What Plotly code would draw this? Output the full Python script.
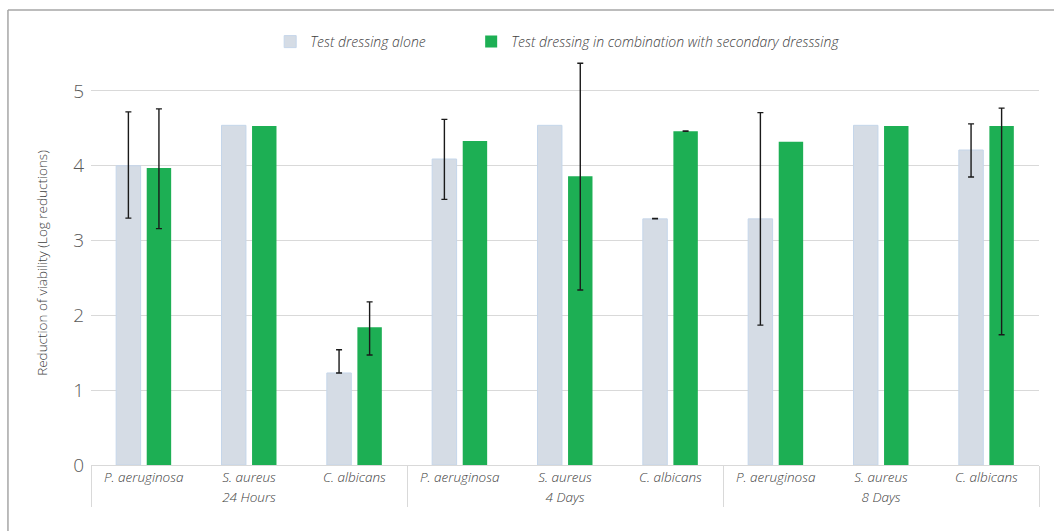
import plotly.graph_objects as go

# Two-level categories: time point / organism
periods = ["24 Hours"] * 3 + ["4 Days"] * 3 + ["8 Days"] * 3
organisms = ["P. aeruginosa", "S. aureus", "C. albicans"] * 3

# Log reductions
alone = [4.00, 4.54, 1.23, 4.09, 4.54, 3.29, 3.29, 4.54, 4.21]
combined = [3.97, 4.53, 1.84, 4.33, 3.86, 4.46, 4.32, 4.53, 4.53]

# Error bar ends (None = no error bar shown)
alone_err_hi = [4.72, None, 1.54, 4.62, None, 3.295, 4.71, None, 4.56]
alone_err_lo = [3.30, None, 1.23, 3.55, None, 3.29, 1.87, None, 3.85]
combined_err_hi = [4.76, None, 2.18, None, 5.37, 4.465, None, None, 4.77]
combined_err_lo = [3.16, None, 1.47, None, 2.34, 4.46, None, None, 1.74]

GREY = "#D5DCE5"
GREEN = "#1DAF54"
TEXT = "#404040"
FRAME = "#A6A6A6"

fig = go.Figure()

fig.add_trace(go.Bar(
    name="Test dressing alone",
    x=[periods, organisms], y=alone,
    offsetgroup="alone",
    legendwidth=156,
    marker=dict(color=GREY, line=dict(color="#C5D6EA", width=1)),
))
fig.add_trace(go.Bar(
    name="Test dressing in combination with secondary dresssing",
    x=[periods, organisms], y=combined,
    offsetgroup="combined",
    marker=dict(color=GREEN, line=dict(width=0)),
))


def error_overlay(values, hi, lo, group):
    """Transparent bars in the same slot that carry only the error bars."""
    idx = [i for i, h in enumerate(hi) if h is not None]
    return go.Bar(
        x=[[periods[i] for i in idx], [organisms[i] for i in idx]],
        y=[values[i] for i in idx],
        offsetgroup=group,
        marker=dict(color="rgba(0,0,0,0)", line=dict(width=0)),
        error_y=dict(
            type="data", symmetric=False,
            array=[hi[i] - values[i] for i in idx],
            arrayminus=[values[i] - lo[i] for i in idx],
            color="#1a1a1a", thickness=1.4, width=3,
        ),
        showlegend=False, hoverinfo="skip",
    )


fig.add_trace(error_overlay(alone, alone_err_hi, alone_err_lo, "alone"))
fig.add_trace(error_overlay(combined, combined_err_hi, combined_err_lo, "combined"))

fig.update_layout(
    width=1054, height=531,
    margin=dict(l=91, r=15, t=61, b=66),
    paper_bgcolor="white", plot_bgcolor="white",
    barmode="group", bargap=0.42, bargroupgap=0.2,
    font=dict(family="Open Sans, Lato, sans-serif", color=TEXT),
    legend=dict(
        orientation="h", x=0.189, xanchor="left", y=1.047, yanchor="middle",
        font=dict(size=14, color=TEXT, style="italic", weight=300),
        bgcolor="rgba(0,0,0,0)",
    ),
    xaxis=dict(
        type="multicategory",
        showline=True, linecolor="#D9D9D9", linewidth=1,
        showgrid=False, ticks="",
        showdividers=True, dividercolor="#D9D9D9", dividerwidth=1,
        tickfont=dict(size=13.5, color=TEXT, style="italic", weight=300),
    ),
    yaxis=dict(
        range=[0, 5.4], dtick=1, tick0=0,
        showgrid=True, gridcolor="#D9D9D9", gridwidth=1,
        zeroline=False, showline=False, ticks="",
        ticklabelstandoff=6,
        tickfont=dict(size=19, color="#595959", weight=300),
        title=dict(text="Reduction of viability (Log reductions)",
                   font=dict(size=13.5, color=TEXT, weight=300), standoff=22),
    ),
    # outer frame: left and top edges of the chart box
    shapes=[
        dict(type="line", xref="paper", yref="paper",
             x0=-0.0876, x1=-0.0876, y0=-0.3, y1=1.126,
             line=dict(color=FRAME, width=1.5), layer="below"),
        dict(type="line", xref="paper", yref="paper",
             x0=-0.0876, x1=1.2, y0=1.126, y1=1.126,
             line=dict(color=FRAME, width=1.5), layer="below"),
    ],
)

fig.write_html("out.html")
